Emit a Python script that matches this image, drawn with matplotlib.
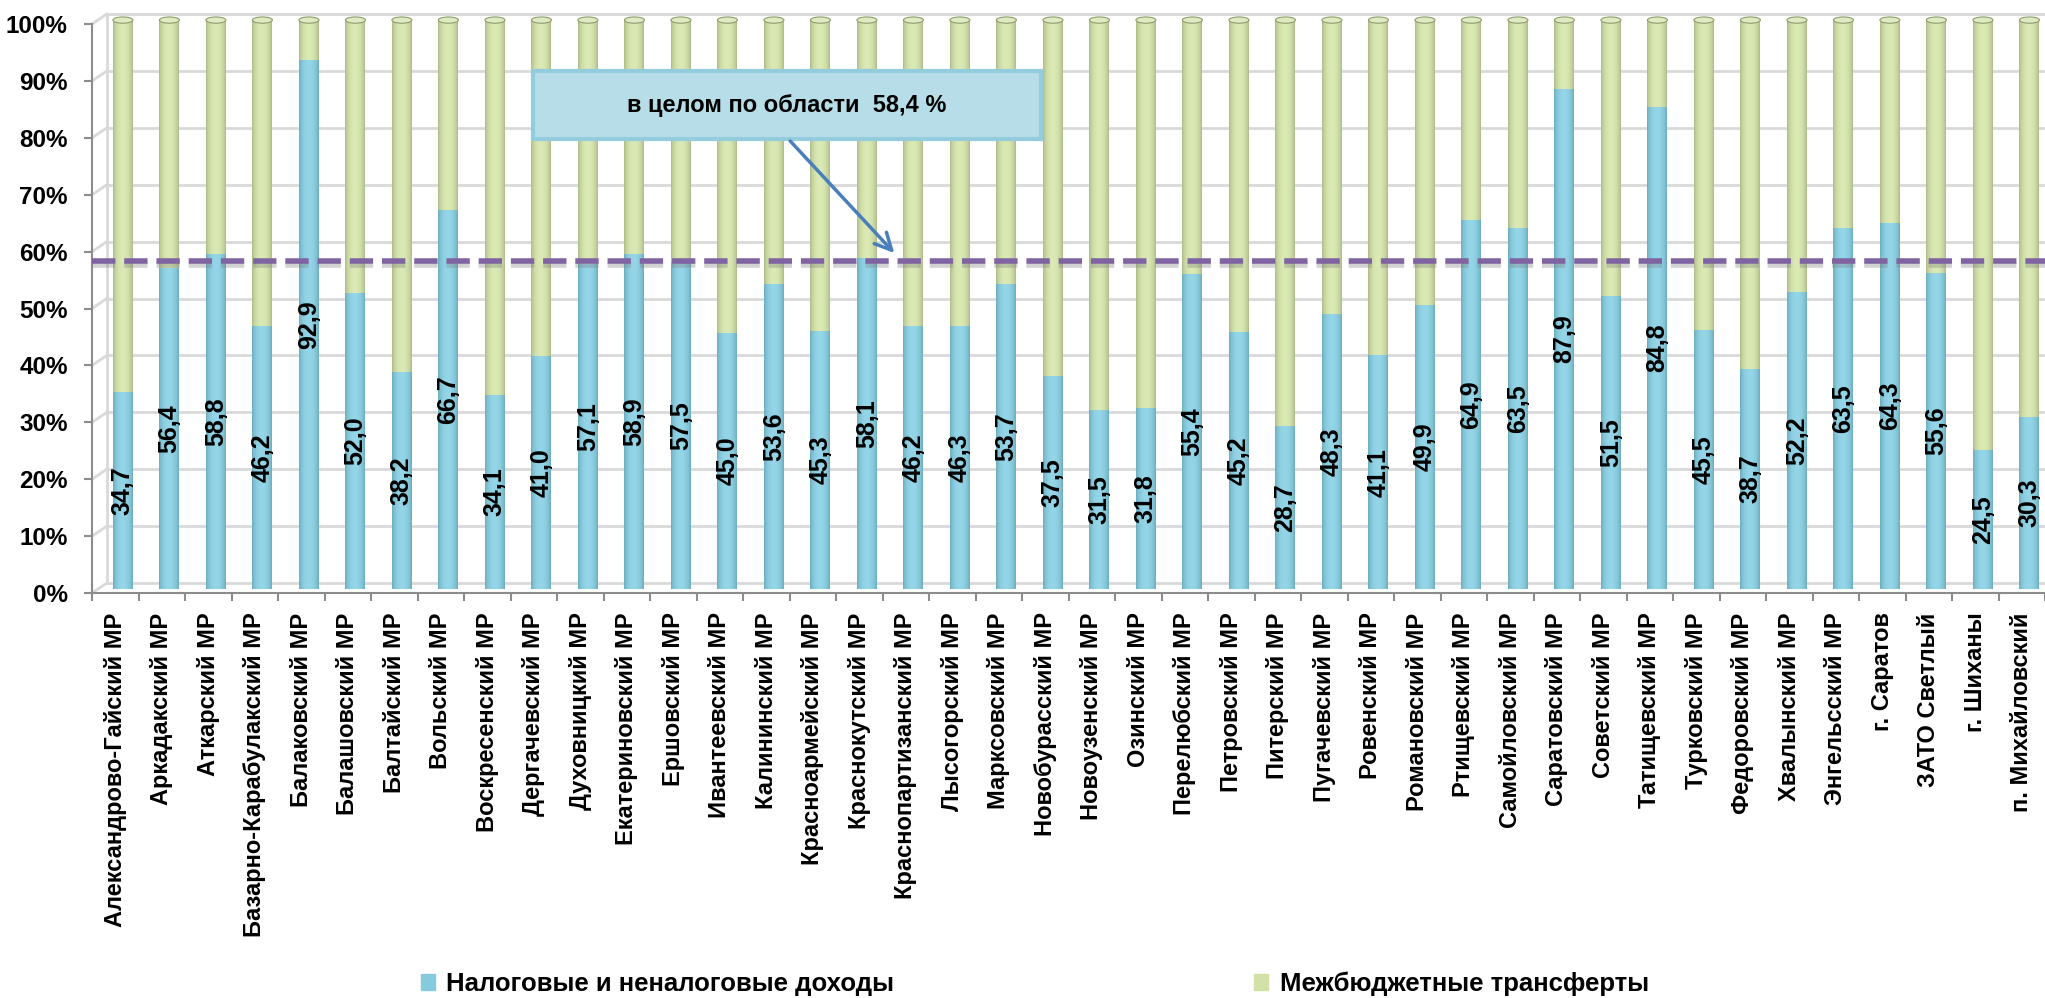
import matplotlib
matplotlib.use('Agg')
import matplotlib.pyplot as plt
import matplotlib.font_manager as fm
import matplotlib.patheffects as pe
from matplotlib.patches import Rectangle, Ellipse, Patch
import numpy as np

# данные: доля налоговых и неналоговых доходов / межбюджетных трансфертов, %
regions = ['Александрово-Гайский МР', 'Аркадакский МР', 'Аткарский МР',
           'Базарно-Карабулакский МР', 'Балаковский МР', 'Балашовский МР',
           'Балтайский МР', 'Вольский МР', 'Воскресенский МР', 'Дергачевский МР',
           'Духовницкий МР', 'Екатериновский МР', 'Ершовский МР', 'Ивантеевский МР',
           'Калининский МР', 'Красноармейский МР', 'Краснокутский МР',
           'Краснопартизанский МР', 'Лысогорский МР', 'Марксовский МР',
           'Новобурасский МР', 'Новоузенский МР', 'Озинский МР', 'Перелюбский МР',
           'Петровский МР', 'Питерский МР', 'Пугачевский МР', 'Ровенский МР',
           'Романовский МР', 'Ртищевский МР', 'Самойловский МР', 'Саратовский МР',
           'Советский МР', 'Татищевский МР', 'Турковский МР', 'Федоровский МР',
           'Хвалынский МР', 'Энгельсский МР', 'г. Саратов', 'ЗАТО Светлый',
           'г. Шиханы', 'п. Михайловский']
tax = [34.7, 56.4, 58.8, 46.2, 92.9, 52.0, 38.2, 66.7, 34.1, 41.0, 57.1, 58.9,
       57.5, 45.0, 53.6, 45.3, 58.1, 46.2, 46.3, 53.7, 37.5, 31.5, 31.8, 55.4,
       45.2, 28.7, 48.3, 41.1, 49.9, 64.9, 63.5, 87.9, 51.5, 84.8, 45.5, 38.7,
       52.2, 63.5, 64.3, 55.6, 24.5, 30.3]
transfers = [65.3, 43.6, 41.2, 53.8, 7.1, 48.0, 61.8, 33.3, 65.9, 59.0, 42.9, 41.1,
             42.5, 55.0, 46.4, 54.7, 41.9, 53.8, 53.7, 46.3, 62.5, 68.5, 68.2, 44.6,
             54.8, 71.3, 51.7, 58.9, 50.1, 35.1, 36.5, 12.1, 48.5, 15.2, 54.5, 61.3,
             47.8, 36.5, 35.7, 44.4, 75.5, 69.7]
overall = 58.4
series_names = ['Налоговые и неналоговые доходы', 'Межбюджетные трансферты']

# шрифты
names = {f.name for f in fm.fontManager.ttflist}
narrow = 'Liberation Sans Narrow' in names
chart_font = ['Liberation Sans Narrow', 'Liberation Sans', 'DejaVu Sans'] if narrow \
    else ['Liberation Sans', 'DejaVu Sans']
box_font = ['Liberation Sans', 'DejaVu Sans']
if narrow:
    fs_y, fs_x, fs_val, fs_leg = 19, 21, 22, 21
else:
    fs_y, fs_x, fs_val, fs_leg = 17.5, 17, 18, 18.5

blue, blue_dk, blue_lt = '#86cbdd', '#4f8fa2', '#94d6e8'
green, green_dk, green_lt = '#d1e1a8', '#8d9d6b', '#dbe9b5'
grid_c = '#d9d9d9'
axis_c = '#8c8c8c'

W, H = 2045, 998
fig = plt.figure(figsize=(W / 100, H / 100), dpi=100)
ax = fig.add_axes([92 / W, (H - 593) / H, (W - 92) / W, (593 - 7) / H])

x = np.arange(len(regions))
xl, xr = -0.665, 41.236
shift = 0.7      # сдвиг цилиндров (объёмная диаграмма)
dx, dy = 0.32, 1.76  # смещение задней стенки

# задняя стенка и сетка
for k in range(0, 101, 10):
    ax.plot([xl + dx, xr + 1], [k + dy, k + dy], color=grid_c, lw=2, zorder=0.5,
            clip_on=False)
    ax.plot([xl, xl + dx], [k, k + dy], color=grid_c, lw=2, zorder=0.5, clip_on=False)
ax.plot([xl + dx, xl + dx], [dy, 100 + dy], color=grid_c, lw=2, zorder=0.5)

width = 0.43
b1 = ax.bar(x, tax, width=width, bottom=shift, color=blue, zorder=3,
            label=series_names[0])
b2 = ax.bar(x, transfers, width=width, bottom=np.array(tax) + shift, color=green,
            zorder=3, label=series_names[1])


def shade(rects, dark, light):
    t = np.linspace(0, 1, 64)
    prof = np.clip(np.sin(np.pi * (0.04 + 0.92 * t)) ** 0.45, 0, 1)
    d = np.array(matplotlib.colors.to_rgb(dark))
    l = np.array(matplotlib.colors.to_rgb(light))
    img = (d[None, :] + (l - d)[None, :] * prof[:, None])[None, :, :]
    for r in rects:
        x0, y0 = r.get_xy()
        im = ax.imshow(img, extent=(x0, x0 + r.get_width(), y0, y0 + r.get_height()),
                       aspect='auto', interpolation='bilinear', zorder=3.1)
        im.set_clip_path(r)


shade(b1, blue_dk, blue_lt)
shade(b2, green_dk, green_lt)

for xi in x:
    ax.add_patch(Ellipse((xi, 100 + shift), width, 1.1, facecolor='#dfeac2',
                         edgecolor=green_dk, lw=0.8, zorder=3.3, clip_on=False))

# подписи значений
for xi, v in zip(x, tax):
    ax.text(xi, shift + v / 2, f'{v:.1f}'.replace('.', ','), rotation=90,
            ha='center', va='center', fontsize=fs_val, fontweight='bold',
            family=chart_font, color='black', zorder=5)

# средняя по области
ax.axhline(overall, color='#8064a2', lw=4, dashes=(4.2, 1.6), zorder=4,
           path_effects=[pe.SimpleLineShadow(offset=(0, -3), shadow_color='gray',
                                             alpha=0.35), pe.Normal()])

ax.add_patch(Rectangle((8.82, 79.8), 10.92, 11.9, facecolor='#b7dde8',
                       edgecolor='#93cddd', lw=3, zorder=6))
ax.text(14.28, 85.75, 'в целом по области  58,4 %', ha='center', va='center',
        fontsize=17, fontweight='bold', family=box_font, zorder=7)
ax.annotate('', xy=(16.63, 59.4), xytext=(14.31, 79.8),
            arrowprops=dict(arrowstyle='->', color='#4a7ebb', lw=2.5,
                            mutation_scale=30), zorder=7)

# оси
ax.set_xlim(xl, xr)
ax.set_ylim(0, 103)
for s in ['top', 'right']:
    ax.spines[s].set_visible(False)
ax.spines['left'].set_bounds(0, 100)
for s in ['left', 'bottom']:
    ax.spines[s].set_color(axis_c)
    ax.spines[s].set_linewidth(1.5)

ax.set_yticks(range(0, 101, 10))
ax.set_yticklabels([f'{v}%' for v in range(0, 101, 10)], fontsize=fs_y,
                   fontweight='bold', family=chart_font)
ax.tick_params(axis='y', length=5.5, width=1.5, color=axis_c, pad=12)

ax.set_xticks(np.arange(43) + xl)
ax.set_xticklabels([])
ax.set_xticks(x - 0.16, minor=True)
ax.set_xticklabels(regions, minor=True, rotation=90, ha='center', va='top',
                   fontsize=fs_x, fontweight='bold', family=chart_font)
ax.tick_params(axis='x', which='major', length=6, width=1.5, color=axis_c)
ax.tick_params(axis='x', which='minor', length=0, pad=14)

leg = fig.legend(handles=[Patch(color=blue), Patch(color=green)], labels=series_names,
                 loc='center', bbox_to_anchor=(0.506, 0.014), ncol=2, frameon=False,
                 columnspacing=14.0, handlelength=0.55, handleheight=0.55,
                 handletextpad=0.45, prop=dict(family=chart_font, weight='bold',
                                               size=fs_leg))

fig.savefig('out.png', dpi=100, facecolor='white')
